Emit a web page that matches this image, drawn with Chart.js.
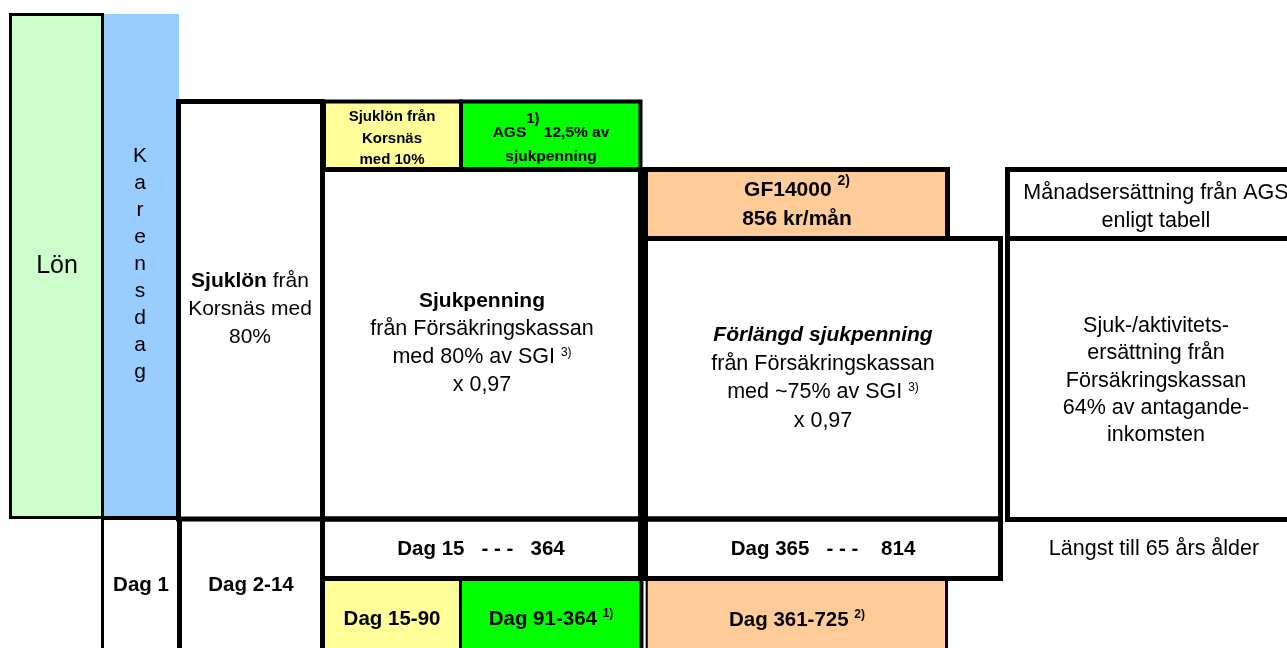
<!DOCTYPE html>
<html>
<head>
<meta charset="utf-8">
<script src="https://cdn.jsdelivr.net/npm/chart.js@4.4.0/dist/chart.umd.min.js"></script>
<style>
  html, body { margin: 0; padding: 0; background: #fff; }
  #wrap { width: 1287px; height: 648px; position: relative; }
</style>
</head>
<body>
<div id="wrap"><canvas id="diagram"></canvas></div>
<script>
const FONT = '"Liberation Sans", Arial, Helvetica, sans-serif';

// Perioder (dagar) som visas under rutorna
const periodLabels = ['Dag 1', 'Dag 2-14', 'Dag 15   - - -   364', 'Dag 365   - - -    814', 'Längst till 65 års ålder'];
const subPeriodLabels = ['Dag 15-90', 'Dag 91-364 ', 'Dag 361-725 '];
const footnotes = ['1)', '2)', '3)'];
const karensLetters = ['K', 'a', 'r', 'e', 'n', 's', 'd', 'a', 'g'];

// Färgade fält: [x0, x1, y0, y1, färg] i diagramkoordinater
const fills = [
    [9, 104, 13, 519, '#CCFFCC'],
    [102, 179, 14, 519, '#99CCFF'],
    [323, 460, 100, 170, '#FFFF99'],
    [460, 642, 100, 170, '#00FF00'],
    [645, 948, 167, 240, '#FFCC99'],
    [322, 460, 579, 648, '#FFFF99'],
    [460, 642, 579, 648, '#00FF00'],
    [645, 948, 579, 648, '#FFCC99']
];

// Ramar: [x0, x1, y0, y1, linjebredd]
const frames = [
    [10.5, 102.5, 14.5, 517.5, 3],
    [178.5, 322.5, 101.5, 519, 5],
    [324, 461, 101.5, 169.5, 4],
    [461, 640.5, 101.5, 169.5, 4],
    [322.5, 640.5, 169.5, 519, 5],
    [645.5, 947.5, 169.5, 238.5, 5],
    [645.5, 1000.5, 238.5, 519, 5],
    [1007.5, 1310, 169.5, 238.5, 5],
    [1007.5, 1310, 238.5, 519.5, 5],
    [322.5, 640.5, 519, 578.5, 5],
    [645.5, 1000.5, 519, 578.5, 5]
];

// Linjer: [x0, y0, x1, y1, linjebredd]
const rules = [
    [102, 518, 180, 518, 4],
    [102.5, 518, 102.5, 648, 3],
    [179.5, 518, 179.5, 648, 5],
    [322.5, 519, 322.5, 648, 5],
    [460.5, 579, 460.5, 648, 3],
    [641.5, 578, 641.5, 648, 4],
    [646.8, 578, 646.8, 648, 2],
    [946.5, 578, 946.5, 648, 3]
];

// Textblock: x = mitt, y = första baslinjen, runs = [text, stil, storlek, höjning]
const texts = [
    { x: 57, y: 273, size: 25, lh: 0, lines: [[['Lön', 'n']]] },
    { x: 140, y: 162, size: 21, lh: 27, lines: karensLetters.map(l => [[l, 'n']]) },
    { x: 250, y: 287, size: 21, lh: 28, lines: [
        [['Sjuklön', 'b'], [' från', 'n']],
        [['Korsnäs med', 'n']],
        [['80%', 'n']]
    ] },
    { x: 392, y: 121, size: 15, lh: 21.5, lines: [
        [['Sjuklön från', 'b']], [['Korsnäs', 'b']], [['med 10%', 'b']]
    ] },
    { x: 551, y: 137, size: 15.5, lh: 24, lines: [
        [['AGS', 'b'], [footnotes[0], 'b', 15, 14], [' 12,5% av', 'b']],
        [['sjukpenning', 'b']]
    ] },
    { x: 482, y: 307, size: 21.5, lh: 28, lines: [
        [['Sjukpenning', 'b', 21]],
        [['från Försäkringskassan', 'n']],
        [['med 80% av SGI ', 'n'], [footnotes[2], 'n', 12, 7]],
        [['x 0,97', 'n']]
    ] },
    { x: 797, y: 196, size: 21, lh: 29, lines: [
        [['GF14000 ', 'b'], [footnotes[1], 'b', 14, 11]],
        [['856 kr/mån', 'b']]
    ] },
    { x: 823, y: 341, size: 21.5, lh: 28.7, lines: [
        [['Förlängd sjukpenning', 'bi', 21]],
        [['från Försäkringskassan', 'n']],
        [['med ~75% av SGI ', 'n'], [footnotes[2], 'n', 12, 7]],
        [['x 0,97', 'n']]
    ] },
    { x: 1156, y: 199, size: 21.5, lh: 28, lines: [
        [['Månadsersättning från AGS', 'n']], [['enligt tabell', 'n']]
    ] },
    { x: 1156, y: 332, size: 21.5, lh: 27.3, lines: [
        [['Sjuk-/aktivitets-', 'n']], [['ersättning från', 'n']], [['Försäkringskassan', 'n']],
        [['64% av antagande-', 'n']], [['inkomsten', 'n']]
    ] },
    { x: 141, y: 591, size: 20.5, lh: 0, lines: [[[periodLabels[0], 'b']]] },
    { x: 251, y: 591, size: 20.5, lh: 0, lines: [[[periodLabels[1], 'b']]] },
    { x: 481, y: 555, size: 20.5, lh: 0, lines: [[[periodLabels[2], 'b']]] },
    { x: 823, y: 555, size: 20.5, lh: 0, lines: [[[periodLabels[3], 'b']]] },
    { x: 1154, y: 555, size: 21.5, lh: 0, lines: [[[periodLabels[4], 'n']]] },
    { x: 392, y: 625, size: 20.5, lh: 0, lines: [[[subPeriodLabels[0], 'b']]] },
    { x: 551, y: 625, size: 20.5, lh: 0, lines: [[[subPeriodLabels[1], 'b'], [footnotes[0], 'b', 12, 8]]] },
    { x: 797, y: 626, size: 20.5, lh: 0, lines: [[[subPeriodLabels[2], 'b'], [footnotes[1], 'b', 12, 8]]] }
];

function fontOf(style, size) {
    const italic = style.includes('i') ? 'italic ' : '';
    const weight = style.includes('b') ? 'bold ' : '';
    return italic + weight + size + 'px ' + FONT;
}

const boxPlugin = {
    id: 'boxes',
    beforeDatasetsDraw(chart) {
        const ctx = chart.ctx;
        const sx = chart.scales.x;
        const sy = chart.scales.y;
        const px = v => sx.getPixelForValue(v);
        const py = v => sy.getPixelForValue(v);

        ctx.save();
        ctx.fillStyle = '#fff';
        ctx.fillRect(0, 0, chart.width, chart.height);

        fills.forEach(([x0, x1, y0, y1, color]) => {
            ctx.fillStyle = color;
            ctx.fillRect(px(x0), py(y0), px(x1) - px(x0), py(y1) - py(y0));
        });

        ctx.strokeStyle = '#000';
        frames.forEach(([x0, x1, y0, y1, lw]) => {
            ctx.lineWidth = lw;
            ctx.strokeRect(px(x0), py(y0), px(x1) - px(x0), py(y1) - py(y0));
        });

        rules.forEach(([x0, y0, x1, y1, lw]) => {
            ctx.lineWidth = lw;
            ctx.beginPath();
            ctx.moveTo(px(x0), py(y0));
            ctx.lineTo(px(x1), py(y1));
            ctx.stroke();
        });

        ctx.fillStyle = '#000';
        ctx.textBaseline = 'alphabetic';
        ctx.textAlign = 'left';
        texts.forEach(block => {
            block.lines.forEach((runs, i) => {
                let total = 0;
                const widths = runs.map(([t, st, sz]) => {
                    ctx.font = fontOf(st, sz || block.size);
                    const w = ctx.measureText(t).width;
                    total += w;
                    return w;
                });
                let x = px(block.x) - total / 2;
                const base = py(block.y + i * block.lh);
                runs.forEach(([t, st, sz, rise], k) => {
                    ctx.font = fontOf(st, sz || block.size);
                    ctx.fillText(t, x, base - (rise || 0));
                    x += widths[k];
                });
            });
        });
        ctx.restore();
    }
};

new Chart(document.getElementById('diagram'), {
    type: 'scatter',
    data: { datasets: [{ data: [] }] },
    options: {
        responsive: true,
        maintainAspectRatio: false,
        animation: false,
        layout: { padding: 0 },
        plugins: { legend: { display: false }, tooltip: { enabled: false } },
        scales: {
            x: { type: 'linear', min: 0, max: 1287, display: false },
            y: { type: 'linear', min: 0, max: 648, reverse: true, display: false }
        }
    },
    plugins: [boxPlugin]
});
</script>
</body>
</html>
